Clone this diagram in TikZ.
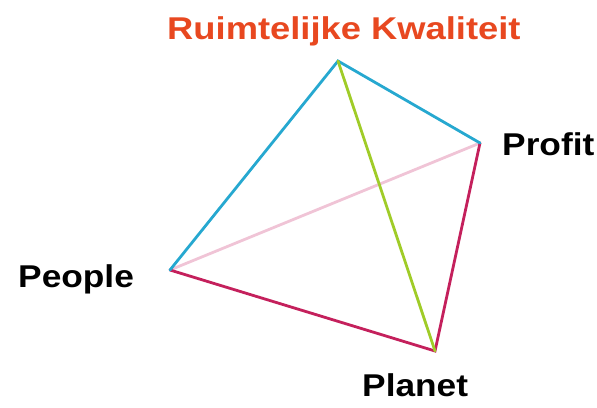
\documentclass[tikz,border=0pt]{standalone}
\usepackage{fontspec}
\setmainfont{Liberation Sans}
\definecolor{cyanedge}{RGB}{38,168,208}
\definecolor{greenedge}{RGB}{160,204,40}
\definecolor{pinkedge}{RGB}{240,196,214}
\definecolor{crimsonedge}{RGB}{196,32,92}
\definecolor{titlered}{RGB}{232,72,32}
\begin{document}
\begin{tikzpicture}[x=1pt,y=-1pt,
  edge/.style={line width=2.8pt,line cap=round},
  lbl/.style={inner sep=0pt,font=\bfseries\fontsize{31.5}{32}\selectfont,anchor=base west,xscale=1.12}]
\useasboundingbox (0,0) rectangle (597,407);
\coordinate (T) at (338,61);
\coordinate (R) at (480,143);
\coordinate (L) at (170,270);
\coordinate (B) at (435,351);
\draw[edge,pinkedge] (L) -- (R);
\draw[edge,crimsonedge] (L) -- (B) -- (R);
\draw[edge,cyanedge] (L) -- (T) -- (R);
\draw[edge,greenedge] (T) -- (B);
\node[lbl,titlered,xscale=1.03] (title) at (167,39) {Ruimtelijke Kwaliteit};
\node[lbl] (profit) at (502,155) {Profit};
\node[lbl] (people) at (18,287) {People};
\node[lbl] (planet) at (362,396) {Planet};
\end{tikzpicture}
\end{document}
